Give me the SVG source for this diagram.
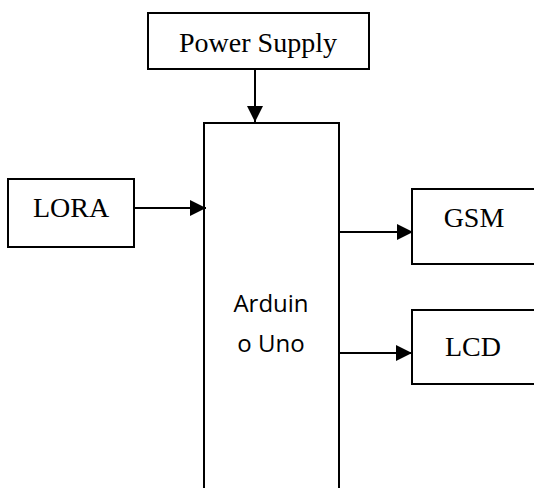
<svg xmlns="http://www.w3.org/2000/svg" width="534" height="488" viewBox="0 0 534 488">
<defs>
<style>
.box{fill:#fff;stroke:#000;stroke-width:2}
.lbl{font-family:"Liberation Serif","Times New Roman",serif;font-size:28px;fill:#000}
.lbl2{font-family:"Open Sans","Noto Sans",sans-serif;font-size:24px;fill:#000}
.conn{stroke:#000;stroke-width:2;fill:none}
</style>
<marker id="ah" viewBox="0 0 10 10" refX="10" refY="5" markerWidth="6.5" markerHeight="6.5" markerUnits="userSpaceOnUse" orient="auto">
<path d="M0,0 L10,5 L0,10 z" fill="#000"/>
</marker>
<marker id="a" viewBox="0 0 16 16" refX="16" refY="8" markerWidth="16" markerHeight="16" markerUnits="userSpaceOnUse" orient="auto">
<path d="M0,0 L16,8 L0,16 z" fill="#000"/>
</marker>
</defs>
<g id="power-supply">
<rect class="box" x="148" y="13" width="221" height="56"/>
<text class="lbl" x="258" y="52" text-anchor="middle">Power Supply</text>
</g>
<g id="arduino">
<rect class="box" x="204" y="123" width="135" height="380"/>
<text class="lbl2" x="271" y="312" text-anchor="middle">Arduin</text>
<text class="lbl2" x="271" y="352" text-anchor="middle">o Uno</text>
</g>
<g id="lora">
<rect class="box" x="8" y="179" width="126" height="68"/>
<text class="lbl" x="71" y="217" text-anchor="middle">LORA</text>
</g>
<g id="gsm">
<rect class="box" x="412" y="189" width="130" height="75"/>
<text class="lbl" x="474" y="227" text-anchor="middle">GSM</text>
</g>
<g id="lcd">
<rect class="box" x="412" y="310" width="130" height="74"/>
<text class="lbl" x="473" y="356" text-anchor="middle">LCD</text>
</g>
<g id="connectors">
<line class="conn" x1="255" y1="69" x2="255" y2="122" marker-end="url(#a)"/>
<line class="conn" x1="134" y1="208" x2="206" y2="208" marker-end="url(#a)"/>
<line class="conn" x1="340" y1="232" x2="413" y2="232" marker-end="url(#a)"/>
<line class="conn" x1="340" y1="353" x2="412" y2="353" marker-end="url(#a)"/>
</g>
</svg>
